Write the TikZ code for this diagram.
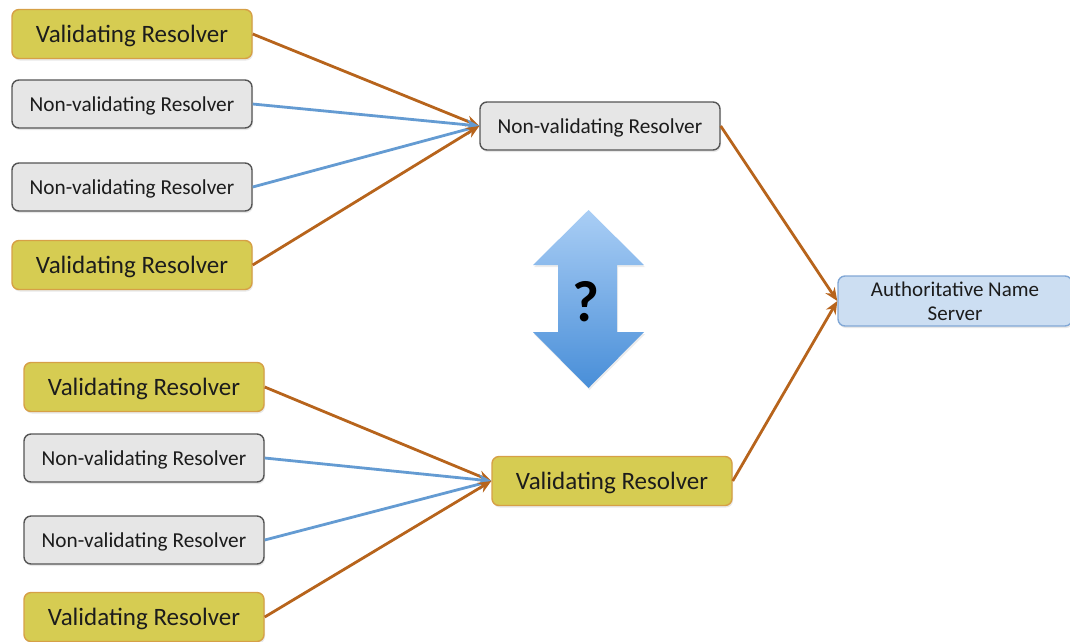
\documentclass[tikz,border=0pt]{standalone}
\usepackage{fontspec}
\setmainfont{Carlito}
\usetikzlibrary{arrows.meta,shadows}
\definecolor{vfill}{RGB}{214,204,82}
\definecolor{vdraw}{RGB}{214,160,70}
\definecolor{nfill}{RGB}{230,230,230}
\definecolor{ndraw}{RGB}{85,85,85}
\definecolor{afill}{RGB}{204,222,242}
\definecolor{adraw}{RGB}{130,168,214}
\definecolor{brownln}{RGB}{183,100,28}
\definecolor{blueln}{RGB}{100,155,210}
\definecolor{txt}{RGB}{28,28,28}
\definecolor{arrtop}{RGB}{170,206,245}
\definecolor{arrbot}{RGB}{72,142,216}
\tikzset{
  boxbase/.style={rounded corners=7pt, line width=1.4pt, text=txt, align=center,
    inner sep=0pt, drop shadow={opacity=0.18, shadow xshift=1pt, shadow yshift=-2pt}},
  vbox/.style={boxbase, fill=vfill, draw=vdraw, minimum width=240pt, minimum height=49pt,
    text depth=0pt, font=\fontsize{25}{28}\selectfont},
  nbox/.style={boxbase, fill=nfill, draw=ndraw, minimum width=240pt, minimum height=48pt,
    text depth=0pt, font=\fontsize{21.3}{25}\selectfont},
  abox/.style={boxbase, fill=afill, draw=adraw, minimum width=234pt, minimum height=50pt,
    font=\fontsize{21}{24}\selectfont},
  brownedge/.style={draw=brownln, line width=2.8pt, -{Stealth[length=13pt,width=11pt]}},
  blueedge/.style={draw=blueln, line width=2.8pt, -{Stealth[length=13pt,width=11pt]}},
}
\begin{document}
\begin{tikzpicture}[x=1pt,y=-1pt]
\useasboundingbox (0,0) rectangle (1070,641);
% top group
\node[vbox] (v1) at (132,34) {Validating Resolver};
\node[nbox] (n1) at (132,104) {Non-validating Resolver};
\node[nbox] (n2) at (132,187) {Non-validating Resolver};
\node[vbox] (v2) at (132,265) {Validating Resolver};
\node[nbox] (m1) at (600,126) {Non-validating Resolver};
% bottom group
\node[vbox] (v3) at (144,387) {Validating Resolver};
\node[nbox] (n3) at (144,458) {Non-validating Resolver};
\node[nbox] (n4) at (144,540) {Non-validating Resolver};
\node[vbox] (v4) at (144,617) {Validating Resolver};
\node[vbox] (m2) at (612,481) {Validating Resolver};
% authoritative
\node[abox] (auth) at (955,301) {Authoritative Name\\Server};
% edges
\draw[brownedge] (v1.east) -- (m1.west);
\draw[blueedge] (n1.east) -- (m1.west);
\draw[blueedge] (n2.east) -- (m1.west);
\draw[brownedge] (v2.east) -- (m1.west);
\draw[brownedge] (v3.east) -- (m2.west);
\draw[blueedge] (n3.east) -- (m2.west);
\draw[blueedge] (n4.east) -- (m2.west);
\draw[brownedge] (v4.east) -- (m2.west);
\draw[brownedge] (m1.east) -- (auth.west);
\draw[brownedge] (m2.east) -- (auth.west);
% double arrow
\shade[top color=arrtop, bottom color=arrbot, drop shadow={opacity=0.15, shadow xshift=1pt, shadow yshift=-2pt}]
  (588.5,210) -- (644,265) -- (617,265) -- (617,332) -- (644,332) -- (588.5,388)
  -- (533,332) -- (558,332) -- (558,265) -- (533,265) -- cycle;
\node[font=\bfseries\fontsize{58}{60}\selectfont, text=black] (q) at (586,302) {?};
\end{tikzpicture}
\end{document}
